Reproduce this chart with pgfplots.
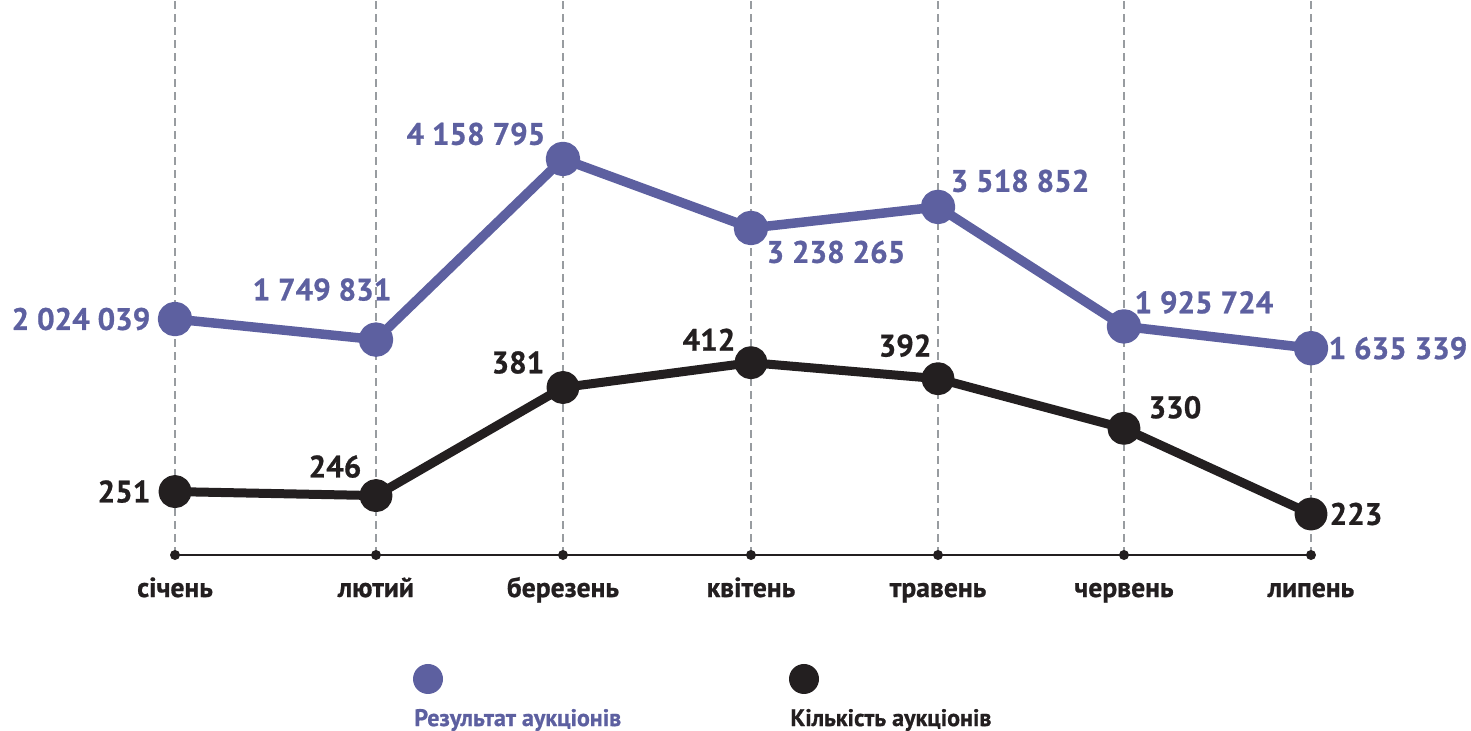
\documentclass[border=0pt]{standalone}
\usepackage{pgfplots}
\pgfplotsset{compat=1.18}
\usepackage{pgfplotstable}
\usepackage{fontspec}
\setmainfont{PT Sans}[BoldFeatures={FakeBold=0.8}]
\definecolor{purp}{RGB}{93,96,160}
\definecolor{blk}{RGB}{35,31,32}
\definecolor{grd}{RGB}{152,156,160}

\pgfplotstableread[col sep=comma]{
x,y,dx,dy,lab
0,2024039,-47,0,2 024 039
1.0616,1749831,-27,25,1 749 831
2.049,4158795,-43.5,12.5,4 158 795
3.042,3238265,42.5,-12,3 238 265
4.030,3518852,41,13,3 518 852
5.012,1925724,40,12,1 925 724
6,1635339,43.5,0,1 635 339
}\purptab

\pgfplotstableread[col sep=comma]{
x,y,dx,dy,lab
0,251,-25.5,0,251
1.0616,246,-20.5,14.5,246
2.049,381,-22.5,12.5,381
3.042,412,-21,11.5,412
4.030,392,-16.5,16.5,392
5.012,330,25.5,10.5,330
6,223,22.5,0,223
}\blktab

\pgfplotsset{
  common/.style={
    scale only axis, width=735.5pt, height=277.5pt,
    xmin=-0.9243, xmax=6.845,
    clip=false,
  },
  lbl/.style={
    nodes near coords, point meta=explicit symbolic,
    visualization depends on={\thisrow{dx}\as\labdx},
    visualization depends on={\thisrow{dy}\as\labdy},
    every node near coord/.append style={anchor=center, inner sep=0pt,
      xshift=\labdx pt, yshift=\labdy pt,
      font=\bfseries\fontsize{15.5}{18}\selectfont, text=#1},
  },
}

\begin{document}
\begin{tikzpicture}
\begin{axis}[common,
  ymin=-1.122e6, ymax=6.278e6,
  axis x line=bottom, axis y line=none,
  x axis line style={blk, line width=1.3pt, -, shorten <=87.5pt, shorten >=79.5pt},
  xtick={0,1.0616,2.049,3.042,4.030,5.012,6},
  xticklabels={січень,лютий,березень,квітень,травень,червень,липень},
  xticklabel style={font=\bfseries\fontsize{13.8}{16}\selectfont, text=blk, anchor=base, yshift=-21pt},
  xmajorgrids, major grid style={grd, line width=1.3pt, dash pattern=on 4pt off 2.5pt},
  major tick length=0.01pt, tick align=center,
  xtick style={blk, line width=5pt, line cap=round},
  ytick=\empty,
]
\addplot[purp, line width=4.75pt, line join=round, mark=*, mark size=6.25pt,
  mark options={draw=none, fill=purp}, lbl=purp]
  table[x=x, y=y, meta=lab]{\purptab};
\end{axis}
\begin{axis}[common,
  ymin=171.8, ymax=865,
  hide axis,
]
\addplot[blk, line width=4.5pt, line join=round, mark=*, mark size=6pt,
  mark options={draw=none, fill=blk}, lbl=blk]
  table[x=x, y=y, meta=lab]{\blktab};
\end{axis}
\fill[purp] (214pt,-62pt) circle (7.5pt);
\node[anchor=west, inner sep=0pt, text=purp, font=\bfseries\fontsize{12}{15}\selectfont] at (207pt,-82.5pt) {Результат аукціонів};
\fill[blk] (402pt,-62pt) circle (7.5pt);
\node[anchor=west, inner sep=0pt, text=blk, font=\bfseries\fontsize{12}{15}\selectfont] at (395pt,-82.5pt) {Кількість аукціонів};
\pgfresetboundingbox
\useasboundingbox (0,-88pt) rectangle (735.5pt,277.5pt);
\end{tikzpicture}
\end{document}
